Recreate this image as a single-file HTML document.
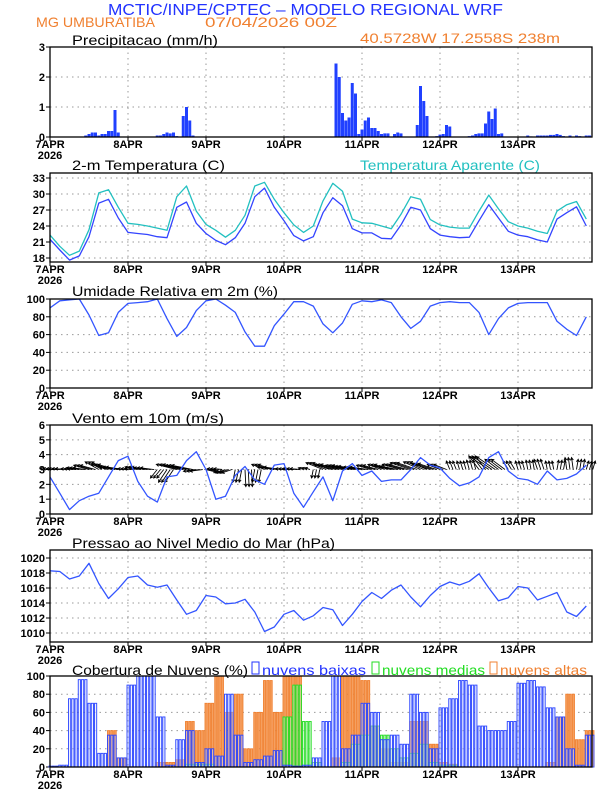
<!DOCTYPE html>
<html><head><meta charset="utf-8"><style>
html,body{margin:0;padding:0;background:#fff;}
svg{display:block;font-family:"Liberation Sans",sans-serif;}
.tk{font-size:11px;font-weight:bold;fill:#000;}
.pt{font-size:14px;fill:#000;}
</style></head><body>
<svg id="chart" width="612" height="792" viewBox="0 0 612 792" xmlns="http://www.w3.org/2000/svg">
<rect x="0" y="0" width="612" height="792" fill="#fff"/>
<text x="108" y="15" font-size="16" fill="#2233ff" textLength="395" lengthAdjust="spacingAndGlyphs">MCTIC/INPE/CPTEC – MODELO REGIONAL WRF</text>
<text x="36" y="27" font-size="14" fill="#f08030" textLength="119" lengthAdjust="spacingAndGlyphs">MG UMBURATIBA</text>
<text x="205" y="27" font-size="14" fill="#f08030" textLength="132" lengthAdjust="spacingAndGlyphs">07/04/2026 00Z</text>
<text x="360" y="43" font-size="14" fill="#f08030" textLength="200" lengthAdjust="spacingAndGlyphs">40.5728W 17.2558S 238m</text>
<text class="pt" x="72" y="45" textLength="146" lengthAdjust="spacingAndGlyphs">Precipitacao (mm/h)</text>
<text class="pt" x="72" y="170" textLength="153" lengthAdjust="spacingAndGlyphs">2-m Temperatura (C)</text>
<text x="360" y="170" font-size="14" fill="#22c0c0" textLength="180" lengthAdjust="spacingAndGlyphs">Temperatura Aparente (C)</text>
<text class="pt" x="72" y="296" textLength="206" lengthAdjust="spacingAndGlyphs">Umidade Relativa em 2m (%)</text>
<text class="pt" x="72" y="423" textLength="152" lengthAdjust="spacingAndGlyphs">Vento em 10m (m/s)</text>
<text class="pt" x="72" y="548" textLength="263" lengthAdjust="spacingAndGlyphs">Pressao ao Nivel Medio do Mar (hPa)</text>
<text class="pt" x="72" y="675" textLength="176" lengthAdjust="spacingAndGlyphs">Cobertura de Nuvens (%)</text>
<rect x="252" y="662" width="7" height="12" fill="none" stroke="#2233ff"/>
<text x="262" y="675" font-size="14" fill="#2233ff" textLength="104" lengthAdjust="spacingAndGlyphs">nuvens baixas</text>
<rect x="372" y="662" width="7" height="12" fill="none" stroke="#22dd22"/>
<text x="382" y="675" font-size="14" fill="#22dd22" textLength="103" lengthAdjust="spacingAndGlyphs">nuvens medias</text>
<rect x="490" y="662" width="7" height="12" fill="none" stroke="#f08030"/>
<text x="500" y="675" font-size="14" fill="#f08030" textLength="87" lengthAdjust="spacingAndGlyphs">nuvens altas</text>
<g id="g"></g>
</svg>
<script>
const days = ["7APR","8APR","9APR","10APR","11APR","12APR","13APR"];
const hours3 = Array.from({length:56},(_,i)=>i*3);
const precipHours = [11,12,13,14,15,16,17,18,19,20,21,33,34,35,36,37,38,39,41,42,43,44,73,88,89,90,91,92,93,94,95,96,97,98,99,100,101,102,103,104,106,107,108,113,114,115,116,119,120,121,122,123,129,130,131,132,133,134,135,136,137,138,139,147,148,150,151,152,153,154,155,156,157,158,160,162,163,165,166];
const precipVals = [0.05,0.1,0.15,0.15,0.05,0.1,0.1,0.2,0.2,0.9,0.15,0.05,0.05,0.1,0.15,0.12,0.15,0.03,0.7,1.0,0.55,0.05,0.02,2.45,2.0,0.8,0.55,0.65,1.8,1.45,0.1,0.25,0.55,0.65,0.3,0.3,0.2,0.1,0.12,0.12,0.1,0.15,0.12,0.4,1.7,1.2,0.7,0.03,0.08,0.1,0.4,0.35,0.03,0.05,0.1,0.12,0.12,0.45,0.85,0.6,0.95,0.1,0.12,0.05,0.02,0.05,0.05,0.05,0.05,0.07,0.07,0.1,0.07,0.03,0.05,0.05,0.03,0.05,0.05];
const tempAir = [21.5,19.5,17.6,18.4,22,28.3,29,25.5, 22.8,22.6,22.4,22,21.8,27.5,28.5,24.5, 22.6,21.3,20.5,21.8,24.5,29.5,31.1,27.5, 25,22.2,21.2,22,26.5,29.3,27.8,23.5, 22.7,22.7,21.7,21.6,24.2,27.5,27,23.5, 22.3,22,21.8,21.9,25,28,25.5,23, 22.3,22,21.4,21,25.3,26.5,27.6,24];
const tempApparent = [22.3,20.2,18.5,19.3,23.3,30.2,30.8,27.5, 24.5,24.3,24,23.6,23.2,29.5,31.5,26.8, 24.3,23.2,21.9,23.2,26,31.5,32.2,29, 26.5,24.2,22.8,24,28.7,32,30.5,25.3, 24.6,24.5,24,23.5,26.2,29.5,29,25.2, 24.2,23.8,23.6,23.6,26.8,29.8,27.2,24.8, 24,23.6,23,22.6,26.8,28,28.6,25.3];
const humidity = [90,98,99,100,82,59,62,85, 95,96,97,100,78,58,68,87, 98,100,93,85,63,47,47,70, 83,97,97,92,72,62,73,94, 98,97,99,96,80,67,75,92, 96,97,96,96,85,60,78,90, 95,96,96,96,75,66,59,80];
const windSpeed = [2.5,1.4,0.3,0.9,1.2,1.4,2.5,3.6, 3.9,2.2,1.2,0.8,2.5,2.6,3.6,4.2, 3.0,1.0,1.2,2.6,3.2,2.3,2.0,3.3, 3.4,1.4,0.45,1.5,2.5,0.9,2.9,3.4, 2.6,2.9,2.2,2.3,2.3,3.0,3.8,3.3, 3.1,2.4,1.9,2.1,2.5,3.8,4.2,2.9, 2.4,2.3,2.0,2.9,2.3,2.4,2.7,3.3];
const windU = [-1.2,-1.3,-1.0,-1.5,-1.8,-1.6,-2.0,-2.2, -1.2,-1.5,-1.6,-0.8,-1.0,-2.4,-2.5,-1.5, 1.2,-1.0,-1.2,-0.3,0.1,-0.3,-1.5,-2.0, -1.0,-1.2,-0.6,-0.2,-2.0,-2.2,-2.0,-2.4, -2.2,-1.8,-1.6,-2.0,-2.2,-2.4,-2.0,-2.2, -1.5,-0.4,-0.3,-0.3,-1.2,-2.2,-1.6,-0.6, -0.3,-0.2,-0.4,-0.2,0.2,-0.2,0.2,0.3];
const windV = [0.1,0.1,0.1,0.2,0.5,0.9,0.6,0.3, 0.1,0.3,0.2,-1.0,-1.5,0.6,0.5,-0.2, -0.3,0.1,-0.4,-1.5,-2.0,-1.5,0.6,0.3, 0.1,0.1,0.2,-1.0,0.8,0.6,0.5,0.4, 0.3,0.5,0.6,0.4,0.6,0.8,0.9,0.7, 0.6,1.0,1.0,1.1,1.6,1.5,1.2,1.0, 1.0,1.1,1.2,1.0,1.1,1.4,1.2,1.0];
const pressure = [1018.3,1018.2,1017.2,1017.6,1019.3,1016.6,1014.6,1015.9, 1017.4,1017.6,1016.4,1016.1,1016.4,1014.4,1012.5,1013, 1015,1014.8,1013.9,1014,1014.5,1012.8,1010.2,1010.8, 1012.5,1013,1011.7,1012.3,1013.4,1013.1,1011,1012.5, 1014.2,1015.4,1014.6,1015.7,1016.4,1014.8,1013.5,1015, 1016.2,1016.8,1016.4,1016.9,1017.9,1016,1014.3,1014.7, 1016.2,1016,1014.4,1014.9,1015.4,1012.8,1012.2,1013.6];
const cloudLow = [1,2,75,96,70,15,35,10, 90,100,100,55,2,30,40,5, 20,12,80,35,5,8,12,18, 2,1,2,10,50,100,20,35, 70,60,30,35,25,80,60,20, 65,75,95,90,45,40,40,50, 92,95,88,65,55,20,2,35];
const cloudMid = [0,0,0,0,0,0,0,0, 0,0,0,0,0,0,3,3, 3,0,0,0,0,0,0,0, 55,90,50,5,0,0,5,25, 35,45,35,20,10,15,25,5, 2,2,0,0,0,0,0,0, 0,0,0,0,0,0,0,0];
const cloudHigh = [0,0,0,0,0,0,40,10, 0,0,0,5,5,8,50,40, 70,100,60,80,20,60,95,60, 100,100,0,0,0,10,100,100, 95,45,20,5,5,50,50,25, 5,3,0,0,0,0,0,0, 0,0,0,5,55,80,30,40];
const precipTicks = ["0","1","2","3"];
const tempTicks = ["18","21","24","27","30","33"];
const humTicks = ["0","20","40","60","80","100"];
const windTicks = ["0","1","2","3","4","5","6"];
const presTicks = ["1010","1012","1014","1016","1018","1020"];
const cloudTicks = ["0","20","40","60","80","100"];

const NS="http://www.w3.org/2000/svg";
const G=document.getElementById('g');
function mk(tag,attrs,parent){const e=document.createElementNS(NS,tag);for(const k in attrs)e.setAttribute(k,attrs[k]);(parent||G).appendChild(e);return e;}
const X=h=>50+h*3.25;
const L=50,R=592;
const panels=[
 {top:47,bot:137,y:v=>137-v*30,ticks:precipTicks,name:'precip'},
 {top:173,bot:262,y:v=>258-(v-18)*16/3,ticks:tempTicks,name:'temp'},
 {top:299,bot:388,y:v=>388-v*0.89,ticks:humTicks,name:'humidity'},
 {top:425,bot:514,y:v=>514-v*14.83,ticks:windTicks,name:'wind'},
 {top:550,bot:642,y:v=>633-(v-1010)*7.5,ticks:presTicks,name:'pressure'},
 {top:676,bot:767,y:v=>767-v*0.91,ticks:cloudTicks,name:'cloud'}
];
panels.forEach(p=>{
  const pg=mk('g',{});
  
  
  p.ticks.forEach(t=>{
    const yy=p.y(parseFloat(t));
    if(yy>p.top+1&&yy<p.bot-1){
      const gl=mk('line',{x1:L,x2:R,y1:yy,y2:yy,stroke:'#999','stroke-dasharray':'1.5,4','stroke-width':1},pg);
      
      
    }
    const tk=mk('line',{x1:L-4,x2:L,y1:yy,y2:yy,stroke:'#000'},pg);
    
    
    const tl=mk('text',{x:L-5,y:yy+4,'text-anchor':'end',class:'tk'},pg);
    tl.textContent=t;
    
    
  });
  days.forEach((d,i)=>{
    const xx=X(i*24);
    if(i>0){
      const gl=mk('line',{x1:xx,x2:xx,y1:p.top,y2:p.bot,stroke:'#999','stroke-dasharray':'1.5,4'},pg);
      
      
    }
    const tk=mk('line',{x1:xx,x2:xx,y1:p.bot,y2:p.bot+4,stroke:'#000'},pg);
    
    
    const tl=mk('text',{x:xx,y:p.bot+11,'text-anchor':'middle',class:'tk'},pg);
    tl.textContent=d;
    
    
  });
  const yr=mk('text',{x:X(0),y:p.bot+22,'text-anchor':'middle',class:'tk'},pg);
  yr.textContent='2026';
  
  
  p.g=pg;
});
function frame(p){
  const fr=mk('rect',{x:L,y:p.top,width:R-L,height:p.bot-p.top,fill:'none',stroke:'#000','stroke-width':1.3},p.g);
  
  
}
precipHours.forEach((h,i)=>{
  const p=panels[0];const y=p.y(precipVals[i]);
  const b=mk('rect',{x:X(h)-1.5,y:y,width:3,height:p.bot-y,fill:'#2040ff'},p.g);
  
  
});
function line(p,arr,color,name){
  const d=arr.map((v,i)=>(i?'L':'M')+X(hours3[i]).toFixed(1)+','+p.y(v).toFixed(1)).join('');
  const l=mk('path',{d:d,fill:'none',stroke:color,'stroke-width':1.3,'stroke-linejoin':'round'},p.g);
  
  
}
line(panels[1],tempApparent,'#22c0c0','apparent-temp-line');
line(panels[1],tempAir,'#3344ff','temp-line');
line(panels[2],humidity,'#3355ff','humidity-line');
const wp=panels[3];
windU.forEach((u,i)=>{
  for(let k=0;k<3;k++){
    const x0=X(hours3[i]+k),y0=wp.y(3);
    const s=8.5;const x1=x0+u*s,y1=y0-windV[i]*s;
    const ang=Math.atan2(y1-y0,x1-x0);
    const a=mk('path',{d:`M${x0},${y0}L${x1},${y1}M${x1-3*Math.cos(ang-0.5)},${y1-3*Math.sin(ang-0.5)}L${x1},${y1}L${x1-3*Math.cos(ang+0.5)},${y1-3*Math.sin(ang+0.5)}`,stroke:'#000','stroke-width':0.9,fill:'none'},wp.g);
    
    
  }
});
line(wp,windSpeed,'#3355ff','wind-speed-line');
line(panels[4],pressure,'#3355ff','pressure-line');
const cp=panels[5];
function bars(arr,fill,stroke,name){
  arr.forEach((v,i)=>{
    if(v<=0)return;
    for(let k=0;k<3;k++){
      const y=cp.y(v);
      const b=mk('rect',{x:X(hours3[i]+k)-1,y:y,width:2.2,height:cp.bot-y,fill:fill,stroke:stroke,'stroke-width':0.9},cp.g);
      
      
    }
  });
}
bars(cloudHigh,'#f5a060','#f08030','cloud-high-bar');
bars(cloudMid,'rgba(170,240,170,0.6)','#22dd22','cloud-mid-bar');
bars(cloudLow,'rgba(215,222,255,0.4)','#2a44ff','cloud-low-bar');
panels.forEach(frame);
</script>
</body></html>
